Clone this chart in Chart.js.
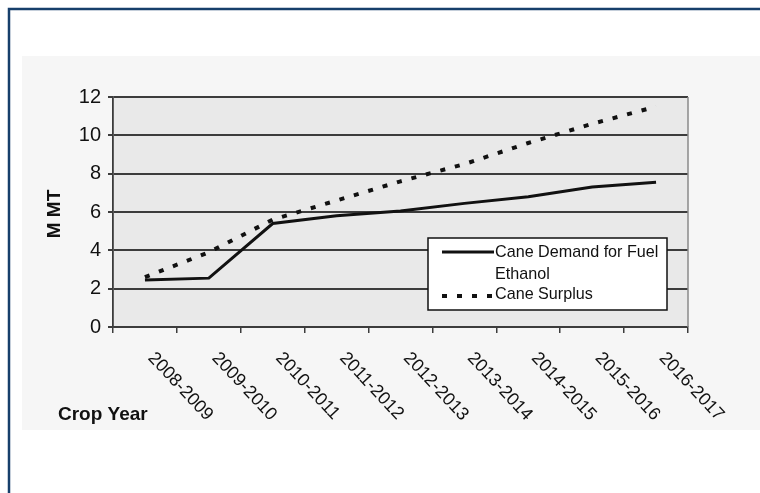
<!DOCTYPE html>
<html>
<head>
<meta charset="utf-8">
<script src="https://cdn.jsdelivr.net/npm/chart.js@4.4.1/dist/chart.umd.min.js"></script>
<style>
  html, body { margin: 0; padding: 0; background: #ffffff; }
  #wrap { width: 760px; height: 493px; }
</style>
</head>
<body>
<div id="wrap"><canvas id="c" width="760" height="493"></canvas></div>
<script>
const categories = ['2008-2009', '2009-2010', '2010-2011', '2011-2012', '2012-2013', '2013-2014', '2014-2015', '2015-2016', '2016-2017'];
const demandValues = [2.45, 2.55, 5.4, 5.8, 6.05, 6.45, 6.8, 7.3, 7.55];
const surplusValues = [2.6, 3.9, 5.6, 6.6, 7.6, 8.5, 9.6, 10.6, 11.5];
const yTicks = [0, 2, 4, 6, 8, 10, 12];
const demandLabelLines = ['Cane Demand for Fuel', 'Ethanol'];
const surplusLabel = 'Cane Surplus';
const yTitle = 'M MT';
const xTitle = 'Crop Year';

const FONT = '"Liberation Sans", Arial, sans-serif';

function condensedText(ctx, text, x, y, sx) {
  ctx.save();
  ctx.translate(x, y);
  ctx.scale(sx, 1);
  ctx.fillText(text, 0, 0);
  ctx.restore();
}

const decorPlugin = {
  id: 'decor',
  beforeDraw(chart) {
    const ctx = chart.ctx;
    const a = chart.chartArea;
    ctx.save();
    ctx.fillStyle = '#ffffff';
    ctx.fillRect(0, 0, chart.width, chart.height);
    ctx.fillStyle = '#f6f6f6';
    ctx.fillRect(22, 56, chart.width - 22, 374);
    ctx.fillStyle = '#e9e9e9';
    ctx.fillRect(a.left, a.top, a.right - a.left, a.bottom - a.top);
    ctx.restore();
  },
  afterDraw(chart) {
    const ctx = chart.ctx;
    const a = chart.chartArea;
    const xs = chart.scales.x;
    ctx.save();
    ctx.strokeStyle = '#8a8a8a';
    ctx.lineWidth = 1.5;
    ctx.beginPath();
    ctx.moveTo(a.right, a.top);
    ctx.lineTo(a.right, a.bottom);
    ctx.stroke();

    // rotated x labels
    ctx.fillStyle = '#111111';
    ctx.font = '18px ' + FONT;
    ctx.textAlign = 'left';
    ctx.textBaseline = 'middle';
    categories.forEach((lab, i) => {
      const x = xs.getPixelForValue(i);
      ctx.save();
      ctx.translate(x + 6, a.bottom + 28);
      ctx.rotate(47 * Math.PI / 180);
      ctx.fillText(lab, 0, 0);
      ctx.restore();
    });

    // x title
    ctx.font = 'bold 19px ' + FONT;
    ctx.textAlign = 'left';
    ctx.fillText(xTitle, 58, 415);

    // y title
    ctx.save();
    ctx.translate(55, 214);
    ctx.rotate(-Math.PI / 2);
    ctx.textAlign = 'center';
    ctx.font = 'bold 19px ' + FONT;
    ctx.fillText(yTitle, 0, 0);
    ctx.restore();

    // legend
    const lx = 428, ly = 238, lw = 239, lh = 72;
    ctx.fillStyle = '#ffffff';
    ctx.fillRect(lx, ly, lw, lh);
    ctx.strokeStyle = '#111111';
    ctx.lineWidth = 1.5;
    ctx.strokeRect(lx, ly, lw, lh);

    const d0 = chart.data.datasets[0];
    const d1 = chart.data.datasets[1];
    ctx.strokeStyle = d0.borderColor;
    ctx.lineWidth = d0.borderWidth;
    ctx.setLineDash([]);
    ctx.beginPath();
    ctx.moveTo(442, 252);
    ctx.lineTo(494, 252);
    ctx.stroke();

    ctx.strokeStyle = d1.borderColor;
    ctx.lineWidth = d1.borderWidth;
    ctx.setLineDash(d1.borderDash);
    ctx.beginPath();
    ctx.moveTo(442, 296);
    ctx.lineTo(494, 296);
    ctx.stroke();
    ctx.setLineDash([]);

    ctx.fillStyle = '#111111';
    ctx.font = '17px ' + FONT;
    ctx.textAlign = 'left';
    ctx.textBaseline = 'middle';
    condensedText(ctx, demandLabelLines[0], 495, 252, 0.95);
    condensedText(ctx, demandLabelLines[1], 495, 274, 0.95);
    condensedText(ctx, surplusLabel, 495, 294, 0.95);

    // frame
    ctx.strokeStyle = '#173f6b';
    ctx.lineWidth = 2.5;
    ctx.beginPath();
    ctx.moveTo(chart.width, 9);
    ctx.lineTo(9, 9);
    ctx.lineTo(9, chart.height);
    ctx.stroke();
    ctx.restore();
  }
};

new Chart(document.getElementById('c'), {
  type: 'line',
  data: {
    labels: categories,
    datasets: [
      {
        label: demandLabelLines.join(' '),
        data: demandValues,
        borderColor: '#111111',
        borderWidth: 3,
        pointRadius: 0,
        tension: 0,
        fill: false
      },
      {
        label: surplusLabel,
        data: surplusValues,
        borderColor: '#111111',
        borderWidth: 4,
        borderDash: [5, 10],
        borderCapStyle: 'butt',
        pointRadius: 0,
        tension: 0,
        fill: false
      }
    ]
  },
  options: {
    responsive: false,
    animation: false,
    devicePixelRatio: 1,
    layout: { padding: { left: 0, top: 97, right: 72, bottom: 0 } },
    plugins: {
      legend: { display: false },
      tooltip: { enabled: false },
      title: { display: false }
    },
    scales: {
      x: {
        type: 'category',
        offset: true,
        grid: {
          offset: true,
          drawOnChartArea: false,
          drawTicks: true,
          tickLength: 6,
          color: '#3c3c3c',
          lineWidth: 1.5
        },
        border: { display: true, color: '#3c3c3c', width: 1.8 },
        ticks: { display: false },
        afterFit(scale) { scale.height = 166; }
      },
      y: {
        min: 0,
        max: 12,
        afterBuildTicks(scale) { scale.ticks = yTicks.map(v => ({ value: v })); },
        grid: {
          color: '#3c3c3c',
          lineWidth: 2,
          tickLength: 5,
          drawTicks: true
        },
        border: { display: true, color: '#3c3c3c', width: 1.8 },
        ticks: {
          padding: 7,
          color: '#111111',
          font: { family: FONT, size: 20 }
        },
        afterFit(scale) { scale.width = 113; }
      }
    }
  },
  plugins: [decorPlugin]
});
</script>
</body>
</html>
